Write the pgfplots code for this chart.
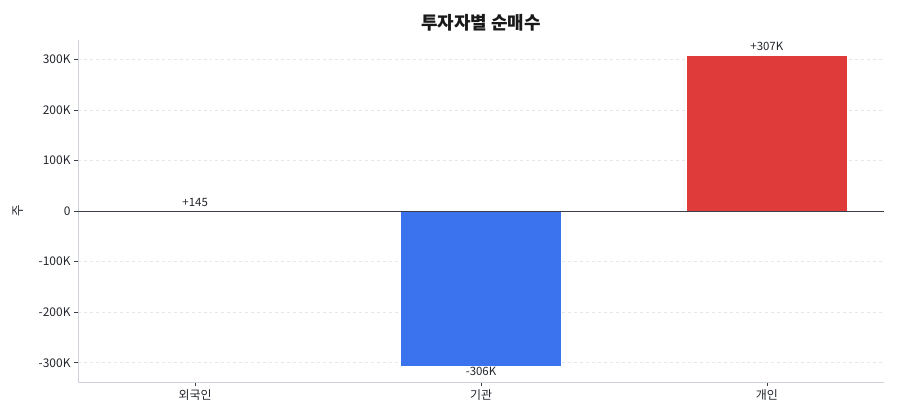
\documentclass[border=0pt]{standalone}
\usepackage{pgfplots}
\usepackage{fontspec}
\pgfplotsset{compat=1.18}
\setmainfont{Noto Sans CJK KR}
\definecolor{txt}{HTML}{22252C}
\definecolor{axisc}{HTML}{CDD2DC}
\definecolor{gridc}{HTML}{E3E6EB}
\definecolor{zeroc}{HTML}{3A3F4A}
\definecolor{bblue}{HTML}{3B73EE}
\definecolor{bred}{HTML}{DF3B3B}

\begin{document}
\begin{tikzpicture}[x=1bp,y=1bp]
\begin{axis}[
  at={(0,0)}, anchor=south west,
  scale only axis,
  width=806bp, height=342bp,
  xmin=-0.41, xmax=2.41,
  ymin=-338000, ymax=338000,
  ybar, bar width=0.56,
  axis x line*=bottom, axis y line*=left,
  axis line style={axisc, line width=0.8pt},
  xtick={0,1,2}, xticklabels={외국인,기관,개인},
  ytick={-300000,-200000,-100000,0,100000,200000,300000},
  yticklabels={-300K,-200K,-100K,0,100K,200K,300K},
  scaled y ticks=false,
  tick style={zeroc, line width=0.6pt},
  tick align=outside, major tick length=4bp,
  tick label style={font=\fontsize{12}{14}\selectfont, text=txt},
  /pgf/number format/assume math mode=true,
  ymajorgrids, grid style={gridc, dashed, line width=0.6pt},
  ylabel={주}, ylabel style={font=\fontsize{12.5}{14}\selectfont, text=txt, at={(-60bp,171bp)}, anchor=center},
  title={\bfseries 투자자별 순매수},
  title style={font=\fontsize{18}{21}\selectfont, text=black!90, at={(0.5,1)}, anchor=center, yshift=11bp},
  nodes near coords,
  point meta=explicit symbolic,
  every node near coord/.append style={font=\fontsize{11.5}{13}\selectfont, text=txt, inner sep=4.5bp},
  clip=false,
]
\addplot[draw=none, fill=bblue, bar shift=0pt] table[meta=lab] {
x y lab
0 145 +145
};
\addplot[draw=none, fill=bblue, bar shift=0pt,
  every node near coord/.append style={anchor=north, inner sep=1.5bp}] table[meta=lab] {
x y lab
1 -306000 -306K
};
\addplot[draw=none, fill=bred, bar shift=0pt] table[meta=lab] {
x y lab
2 307000 +307K
};
\draw[zeroc, line width=0.9pt] (axis cs:-0.41,0) -- (axis cs:2.41,0);
\end{axis}
\pgfresetboundingbox
\path (-78bp,-38bp) rectangle (822bp,382bp);
\end{tikzpicture}
\end{document}
